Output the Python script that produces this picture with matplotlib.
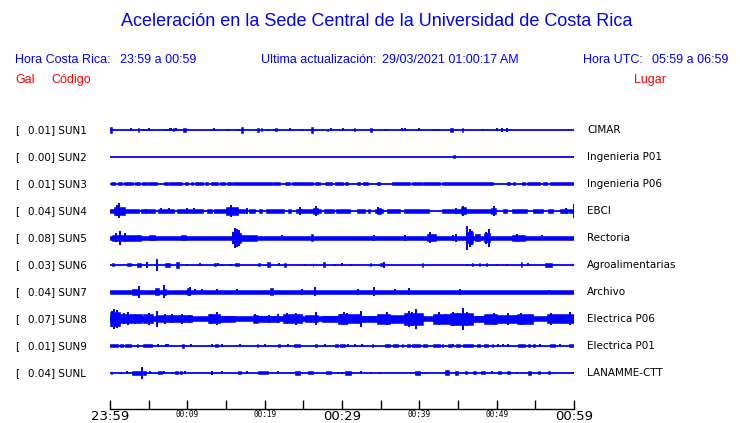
import matplotlib
matplotlib.use("Agg")
import matplotlib.pyplot as plt

# station info
codes = ["SUN1", "SUN2", "SUN3", "SUN4", "SUN5", "SUN6", "SUN7", "SUN8", "SUN9", "SUNL"]
gal = [0.01, 0.00, 0.01, 0.04, 0.08, 0.03, 0.04, 0.07, 0.01, 0.04]
places = ["CIMAR", "Ingenieria P01", "Ingenieria P06", "EBCI", "Rectoria",
          "Agroalimentarias", "Archivo", "Electrica P06", "Electrica P01", "LANAMME-CTT"]

# time axis (minutes after 23:59)
tick_minutes = [0, 5, 10, 15, 20, 25, 30, 35, 40, 45, 50, 55, 60]
tick_labels = ["23:59", "", "00:09", "", "00:19", "", "00:29", "", "00:39", "", "00:49", "", "00:59"]
big_labels = ["23:59", "00:29", "00:59"]

# trace envelopes: (start min, end min, half amplitude)
# start == end means a single spike
sun1 = [(0.0, 0.2, 3), (2.7, 2.7, 1.5), (3.6, 3.8, 2), (4.4, 4.4, 1), (5.0, 5.0, 1.5),
        (7.3, 7.3, 1), (7.7, 7.7, 1.5), (7.9, 7.9, 1.5), (8.2, 8.3, 1.5), (8.5, 8.5, 1.5),
        (9.5, 9.8, 2), (13.4, 13.4, 1.5), (15.3, 15.3, 1), (16.6, 16.6, 1), (16.9, 17.2, 3),
        (19.0, 19.3, 2), (19.5, 19.6, 1.5), (20.4, 20.4, 1), (21.2, 21.2, 1), (21.4, 21.6, 1.5),
        (23.3, 23.3, 1.5), (24.8, 24.8, 1), (26.0, 26.2, 3), (26.4, 26.4, 1), (28.0, 28.2, 1),
        (28.6, 28.6, 1.5), (30.1, 30.1, 1.5), (31.5, 31.7, 1.5), (33.6, 33.9, 2), (35.6, 35.6, 1),
        (37.8, 37.8, 1.5), (38.1, 38.1, 1.5), (39.9, 39.9, 1.5), (41.9, 41.9, 1), (42.5, 42.5, 1),
        (44.0, 44.4, 2), (45.2, 45.3, 1), (45.5, 45.6, 2), (48.2, 48.2, 1), (50.0, 50.0, 1.5),
        (50.7, 50.7, 2), (51.4, 51.4, 2)]
sun2 = [(44.4, 44.6, 1.5)]
sun3 = [(0.13, 0.65, 1.5), (1.08, 1.6, 1.5), (1.85, 3.02, 1.5), (3.23, 3.88, 1.5), (4.1, 4.74, 1.5),
        (4.87, 6.03, 1.5), (7.03, 7.46, 1.5), (7.63, 9.35, 1.5), (9.7, 10.13, 1.5), (10.48, 10.78, 1.5),
        (10.99, 12.07, 1.5), (12.28, 12.72, 1.5), (13.06, 14.0, 1.5), (14.23, 14.87, 1.5),
        (15.09, 15.73, 1.5), (15.95, 20.9, 1.5), (21.12, 21.98, 1.5), (22.63, 23.27, 1.5),
        (23.58, 26.29, 1.5), (26.5, 27.16, 1.5), (27.8, 28.66, 1.5), (29.1, 30.17, 1.5),
        (30.39, 30.82, 1.5), (31.9, 32.33, 1.5), (32.76, 33.41, 1.5), (34.48, 34.91, 1.5),
        (36.42, 38.79, 1.5), (39.0, 40.3, 1.5), (40.52, 42.67, 1.5), (42.89, 49.57, 1.5),
        (51.3, 51.73, 1.5), (52.16, 52.37, 1.5), (53.23, 53.66, 1.5), (53.88, 55.6, 1.5),
        (56.04, 56.47, 1.5), (56.9, 59.92, 1.5)]
sun4 = [(0.0, 3.7, 1.6), (4.0, 5.8, 1.6), (6.2, 8.3, 1.6), (8.6, 12.0, 1.6), (12.5, 13.2, 1.6),
        (13.4, 17.5, 1.6), (18.0, 18.8, 1.6), (19.3, 19.6, 1.6), (20.2, 22.5, 1.6), (23.0, 23.4, 1.6),
        (24.0, 27.3, 1.6), (27.7, 29.0, 1.6), (29.2, 31.0, 1.6), (31.9, 33.0, 1.6), (33.4, 33.6, 1.6),
        (34.3, 35.3, 1.6), (35.8, 37.5, 1.6), (38.0, 41.2, 1.6), (42.9, 49.6, 1.6), (50.8, 51.4, 1.6),
        (52.0, 53.9, 1.6), (54.7, 56.0, 1.6), (56.6, 57.3, 1.6), (58.2, 59.2, 1.6), (59.4, 59.9, 1.6),
        (0.5, 2.0, 4.0), (1.2, 1.2, 7.5), (0.9, 0.9, 5.5), (15.0, 16.5, 4.0), (15.65, 15.65, 6),
        (10.8, 10.8, 3), (9.9, 9.9, 3), (6.6, 6.6, 2.5), (7.6, 7.6, 2.5), (4.6, 4.6, 2),
        (17.7, 17.7, 3), (24.6, 24.6, 4), (26.6, 26.6, 5), (26.3, 26.9, 3), (34.5, 35.0, 3),
        (34.7, 34.7, 3.5), (44.8, 44.8, 3), (45.4, 46.0, 3.5), (45.7, 45.7, 5), (49.3, 49.9, 3),
        (49.6, 49.6, 5), (59.0, 59.0, 3), (59.95, 59.95, 7)]
sun5 = [(0.0, 60.0, 2), (0.3, 4.0, 3.0), (1.3, 1.3, 7), (0.8, 0.8, 4.5), (2.0, 2.0, 4.5),
        (5.0, 5.8, 2.5), (9.2, 9.8, 2.5), (15.8, 17.0, 5), (16.1, 16.1, 10), (16.4, 16.4, 9),
        (16.7, 16.7, 8), (15.9, 15.9, 6), (17.0, 19.0, 3.0), (26.0, 26.3, 3.5), (22.3, 22.3, 2.5),
        (34.1, 34.1, 3), (38.2, 38.2, 3), (41.0, 42.1, 3.5), (41.4, 41.4, 5.5), (44.4, 44.4, 3),
        (44.8, 44.8, 4), (46.0, 47.0, 5.5), (46.2, 46.2, 12), (46.5, 46.5, 9), (46.8, 46.8, 7),
        (47.2, 47.8, 3.5), (48.3, 49.1, 4.5), (49.0, 49.0, 9), (48.6, 48.6, 6), (52.0, 53.7, 3.0),
        (52.6, 52.6, 4), (55.8, 55.8, 2.5)]
sun6 = [(0.2, 0.5, 1.5), (2.2, 2.7, 1.5), (2.9, 2.9, 1), (3.45, 4.0, 2), (4.74, 4.74, 3),
        (6.03, 6.03, 6), (7.1, 7.8, 2), (8.5, 8.9, 3), (9.9, 9.9, 1), (11.6, 11.6, 1.5),
        (13.4, 13.7, 1.5), (14.0, 14.0, 1.5), (14.5, 14.5, 1), (15.6, 15.6, 1), (16.2, 16.7, 1.5),
        (19.2, 19.4, 1.5), (20.3, 20.7, 2.5), (21.8, 21.8, 1.5), (22.5, 22.8, 2), (25.2, 25.2, 1),
        (26.2, 26.3, 2), (27.5, 27.8, 2.5), (29.1, 29.1, 1), (30.0, 30.0, 1.5), (31.2, 31.2, 1),
        (33.6, 33.7, 1.5), (34.9, 35.3, 1.5), (35.4, 35.4, 3), (40.3, 40.5, 2), (46.1, 46.1, 1),
        (46.8, 47.0, 1.5), (47.7, 47.9, 1.5), (48.6, 48.8, 1.5), (50.0, 50.0, 1), (51.3, 51.3, 1),
        (53.1, 53.3, 2.5), (54.1, 54.1, 1.5), (56.2, 57.1, 2), (59.7, 59.8, 1.5)]
sun7 = [(0.0, 60.0, 2), (2.9, 3.7, 3), (3.8, 3.8, 6), (5.8, 6.3, 3.5), (7.0, 7.0, 6.5),
        (6.8, 7.2, 3), (9.9, 10.4, 3.5), (10.35, 10.35, 4.5), (11.0, 11.0, 2.5), (11.9, 11.9, 2.5),
        (13.8, 13.8, 2.5), (16.4, 16.4, 2.5), (20.7, 21.1, 3.5), (24.8, 24.8, 3), (26.5, 26.5, 4.5),
        (32.1, 32.1, 3), (34.2, 34.2, 4.5), (36.8, 36.8, 2.5), (38.7, 38.7, 3.5), (45.3, 45.3, 3),
        (56.8, 56.8, 1.5)]
sun8 = [(0.0, 60.0, 2.5), (0.0, 1.3, 7), (0.5, 0.5, 10), (0.9, 0.9, 9), (0.2, 0.2, 8),
        (1.3, 4.1, 4.5), (2.37, 2.37, 6.5), (1.8, 1.8, 5.5), (3.2, 3.2, 5), (4.3, 5.6, 4.5),
        (5.0, 5.0, 6), (6.1, 6.1, 8), (6.2, 10.6, 3.5), (7.1, 7.1, 5), (7.97, 7.97, 4.5),
        (9.27, 9.27, 5), (10.35, 10.35, 4), (12.7, 14.2, 4.5), (13.9, 13.9, 6.5), (13.1, 13.1, 5),
        (14.2, 16.2, 3), (18.5, 19.2, 4), (18.8, 18.8, 4.5), (19.2, 21.8, 3), (21.76, 21.76, 4.5),
        (20.5, 20.5, 4), (22.4, 24.8, 4.5), (22.84, 22.84, 5.5), (24.1, 24.1, 6), (25.2, 26.9, 3.5),
        (26.6, 26.6, 6.5), (27.4, 29.5, 3), (29.5, 30.4, 5), (30.3, 30.3, 6.5), (29.7, 32.3, 4.5),
        (30.6, 30.6, 6), (32.4, 32.4, 8), (32.3, 34.5, 3), (34.5, 36.2, 5), (35.8, 35.8, 6.5),
        (36.2, 38.0, 4), (38.0, 40.5, 6), (38.6, 38.6, 8), (39.6, 39.6, 10), (39.0, 39.0, 7),
        (41.8, 44.0, 5), (42.6, 42.6, 6.5), (43.4, 43.4, 5), (44.0, 47.0, 6), (44.4, 44.4, 7),
        (45.6, 45.6, 11), (46.1, 46.1, 7), (45.0, 45.0, 6), (47.0, 48.3, 3), (48.3, 50.0, 5),
        (49.6, 49.6, 6), (50.0, 51.3, 4), (51.3, 52.6, 4), (51.5, 51.5, 6), (52.6, 54.7, 5),
        (53.2, 53.2, 6), (56.5, 60.0, 4.5), (56.98, 56.98, 6), (59.5, 59.5, 6.5)]
sun9 = [(0.0, 1.08, 1.5), (1.29, 1.72, 1.5), (1.94, 2.72, 1.5), (3.45, 3.66, 1.5), (4.3, 5.4, 1.5),
        (6.16, 6.16, 1.5), (7.2, 7.2, 1.5), (7.54, 7.54, 1.5), (9.35, 9.6, 2), (10.5, 10.5, 1.5),
        (13.15, 13.15, 1.5), (13.58, 14.0, 1.5), (14.44, 14.44, 1.5), (16.8, 16.8, 1.5),
        (18.97, 19.18, 1.5), (20.04, 20.04, 1.5), (21.77, 21.98, 1.5), (23.06, 23.06, 1.5),
        (23.84, 24.57, 1.5), (26.5, 26.73, 1.5), (27.8, 27.8, 1.5), (29.1, 29.5, 1.5),
        (29.74, 30.4, 1.5), (30.82, 30.82, 1.5), (31.68, 31.68, 1.5), (32.54, 32.54, 1.5),
        (33.84, 34.05, 1.5), (35.56, 36.2, 1.5), (36.6, 37.3, 1.5), (37.7, 37.9, 1.5),
        (38.4, 38.8, 1.5), (39.0, 40.1, 1.5), (40.5, 41.0, 1.5), (41.8, 42.7, 1.5), (42.9, 43.1, 1.5),
        (43.7, 44.2, 1.5), (44.4, 44.4, 1.5), (44.8, 45.2, 1.5), (45.6, 47.0, 1.5), (47.4, 47.8, 1.5),
        (48.3, 48.9, 1.5), (49.35, 49.57, 1.5), (50.2, 50.2, 1.5), (50.87, 50.87, 1.5),
        (51.5, 51.5, 1.5), (52.8, 53.7, 1.5), (54.1, 54.3, 1.5), (54.7, 54.9, 1.5), (55.6, 55.6, 1.5),
        (56.9, 57.5, 1.5), (58.2, 58.2, 1.5), (59.3, 59.9, 1.5)]
sunl = [(0.13, 0.3, 1), (1.42, 1.42, 1), (2.16, 2.16, 1.5), (2.8, 4.1, 1.8), (4.18, 4.18, 6),
        (4.3, 4.7, 2), (5.17, 5.17, 1.5), (6.25, 6.7, 1.5), (7.0, 7.0, 1.5), (7.97, 7.97, 1),
        (8.4, 8.75, 1.5), (9.05, 9.27, 1.5), (9.7, 9.7, 1.5), (13.15, 13.15, 2), (14.44, 14.44, 1.5),
        (16.6, 17.0, 1.5), (17.7, 17.7, 1.5), (19.2, 20.4, 1.5), (21.7, 21.7, 1.5), (23.9, 24.6, 2),
        (25.6, 26.3, 1.5), (27.9, 28.6, 1.5), (29.5, 29.5, 1), (29.95, 29.95, 1), (30.4, 31.2, 2),
        (32.5, 32.5, 1.5), (33.8, 33.8, 1), (34.9, 34.9, 1), (39.4, 40.1, 2), (40.9, 40.9, 1),
        (43.3, 43.8, 2.5), (44.6, 45.0, 2), (45.9, 46.1, 1.5), (47.0, 47.3, 1.5), (48.0, 48.5, 1.5),
        (49.35, 49.35, 1.5), (50.2, 50.6, 1.5), (51.3, 51.7, 1.5), (52.6, 52.6, 1), (54.1, 54.5, 2),
        (55.4, 55.6, 1.5), (56.7, 56.9, 1.5), (59.9, 59.9, 1)]
traces = [sun1, sun2, sun3, sun4, sun5, sun6, sun7, sun8, sun9, sunl]

blue = "#0000ff"
W, H = 740, 423

fig = plt.figure(figsize=(W / 100, H / 100), dpi=100)
ax = fig.add_axes([110 / W, 0, 464 / W, 1])
ax.set_xlim(0, 60)
ax.set_ylim(H, 0)   # y in pixels from the top

for i, events in enumerate(traces):
    yc = 130 + 27 * i
    ax.hlines(yc, 0, 60, color=blue, lw=1.3)
    for t0, t1, h in events:
        if t1 > t0:
            ax.bar(t0, 2 * h, width=t1 - t0, bottom=yc - h, align="edge",
                   color=blue, edgecolor=blue, lw=0.4)
        else:
            ax.vlines(t0, yc - h, yc + h, color=blue, lw=1.4)

    fig.text(15 / W, 1 - yc / H, "[", fontsize=7.5, family="DejaVu Sans", va="center")
    fig.text(27.7 / W, 1 - yc / H, "%.2f] %s" % (gal[i], codes[i]), fontsize=7.5,
             family="DejaVu Sans", va="center")
    fig.text(587 / W, 1 - yc / H, places[i], fontsize=7.5, family="DejaVu Sans", va="center")

# time axis
for s in ["top", "left", "right"]:
    ax.spines[s].set_visible(False)
ax.spines["bottom"].set_position(("data", 409))
ax.spines["bottom"].set_linewidth(1)
ax.set_yticks([])
ax.set_xticks(tick_minutes, tick_labels)
ax.tick_params(axis="x", direction="in", length=6.5, width=1, pad=1)
for lab in ax.get_xticklabels():
    if lab.get_text() in big_labels:
        lab.set_fontsize(9.5)
        lab.set_family("DejaVu Sans")
    else:
        lab.set_fontsize(5.5)
        lab.set_family("DejaVu Sans Mono")
ax.patch.set_visible(False)

# header texts
hf = "Liberation Sans"
fig.text(377 / W, 1 - 22 / H, "Aceleración en la Sede Central de la Universidad de Costa Rica",
         fontsize=13, family=hf, color=blue, ha="center", va="center")
fig.text(15 / W, 1 - 60 / H, "Hora Costa Rica:", fontsize=9, family=hf, color=blue, va="center")
fig.text(120 / W, 1 - 60 / H, "23:59 a 00:59", fontsize=9, family=hf, color=blue, va="center")
fig.text(261 / W, 1 - 60 / H, "Ultima actualización:", fontsize=9, family=hf, color=blue, va="center")
fig.text(382 / W, 1 - 60 / H, "29/03/2021 01:00:17 AM", fontsize=9, family=hf, color=blue, va="center")
fig.text(583 / W, 1 - 60 / H, "Hora UTC:", fontsize=9, family=hf, color=blue, va="center")
fig.text(728 / W, 1 - 60 / H, "05:59 a 06:59", fontsize=9, family=hf, color=blue, va="center", ha="right")
fig.text(15 / W, 1 - 80 / H, "Gal", fontsize=9, family=hf, color="red", va="center")
fig.text(51 / W, 1 - 80 / H, "Código", fontsize=9, family=hf, color="red", va="center")
fig.text(634 / W, 1 - 80 / H, "Lugar", fontsize=9, family=hf, color="red", va="center")

fig.savefig("out.png", dpi=100)
